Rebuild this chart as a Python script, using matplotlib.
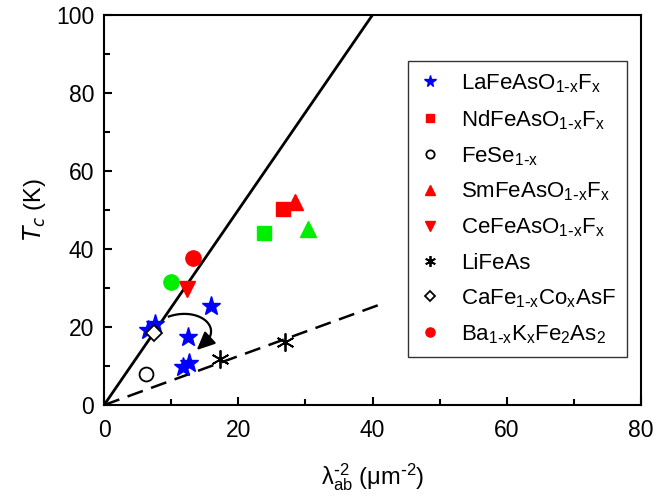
import numpy as np
import matplotlib
matplotlib.use("Agg")
import matplotlib.pyplot as plt
from matplotlib.ticker import MultipleLocator

plt.rcParams['font.family'] = ['Liberation Sans', 'DejaVu Sans']
plt.rcParams['mathtext.default'] = 'regular'

# data (x = lambda_ab^-2 in um^-2, y = Tc in K)
la_x = [6.6, 7.6, 12.5, 16.0, 11.8, 12.7]
la_y = [19.2, 20.7, 17.5, 25.3, 9.7, 10.8]
nd_x, nd_y = [26.7], [50.3]
fese_x, fese_y = [6.3], [7.9]
sm_x, sm_y = [28.4], [52.1]
ce_x, ce_y = [12.4], [29.7]
li_x, li_y = [17.3, 27.0], [11.7, 16.1]
ca_x, ca_y = [7.4], [18.5]
ba_x, ba_y = [13.2], [37.6]
# green points (not in legend)
gc_x, gc_y = [10.0], [31.6]
gs_x, gs_y = [23.8], [44.2]
gt_x, gt_y = [30.4], [45.0]

solid_x, solid_y = [0, 40], [0, 100]
dash_x, dash_y = [0, 41.8], [0, 26.2]

# curved arrow: start, two control points, tip (bezier)
arrow_pts = np.array([(9.5, 22.6), (14.3, 25.6), (18.7, 19.2), (13.8, 14.1)])

fig = plt.figure(figsize=(6.67, 4.97), dpi=100)
ax = fig.add_axes([0.156, 0.185, 0.805, 0.785])

ax.plot(solid_x, solid_y, color='black', lw=2)
ax.plot(dash_x, dash_y, color='black', lw=1.8, dashes=(6.5, 3.5))

ms = 11
ax.plot(la_x, la_y, '*', color='blue', ms=ms + 3, mec='blue', label=r'LaFeAsO$_{1\text{-}x}$F$_x$', ls='none')
ax.plot(nd_x, nd_y, 's', color='red', ms=ms - 0.5, label=r'NdFeAsO$_{1\text{-}x}$F$_x$', ls='none')
ax.plot(fese_x, fese_y, 'o', mfc='white', mec='black', mew=1.3, ms=ms - 1, label=r'FeSe$_{1\text{-}x}$', ls='none')
ax.plot(sm_x, sm_y, '^', color='red', ms=ms, label=r'SmFeAsO$_{1\text{-}x}$F$_x$', ls='none')
ax.plot(ce_x, ce_y, 'v', color='red', ms=ms, label=r'CeFeAsO$_{1\text{-}x}$F$_x$', ls='none')
ax.plot(li_x, li_y, marker=(6, 2, 0), color='black', mew=1.3, ms=ms + 2, label='LiFeAs', ls='none')
ax.plot(ca_x, ca_y, 'D', mfc='white', mec='black', mew=1.3, ms=ms - 2.5, label=r'CaFe$_{1\text{-}x}$Co$_x$AsF', ls='none')
ax.plot(ba_x, ba_y, 'o', color='red', ms=ms, label=r'Ba$_{1\text{-}x}$K$_x$Fe$_2$As$_2$', ls='none')

ax.plot(gc_x, gc_y, 'o', color='#00ee00', ms=ms, ls='none')
ax.plot(gs_x, gs_y, 's', color='#00ee00', ms=ms - 0.5, ls='none')
ax.plot(gt_x, gt_y, '^', color='#00ee00', ms=ms, ls='none')

# arrow body (cubic bezier) + head
t = np.linspace(0, 1, 60)[:, None]
p0, p1, p2, p3 = arrow_pts
curve = (1 - t) ** 3 * p0 + 3 * (1 - t) ** 2 * t * p1 + 3 * (1 - t) * t ** 2 * p2 + t ** 3 * p3
ax.plot(curve[:-8, 0], curve[:-8, 1], color='black', lw=1.6, solid_capstyle='butt')
ax.annotate('', xy=tuple(curve[-1]), xytext=tuple(curve[-12]),
            arrowprops=dict(arrowstyle='-|>,head_length=0.55,head_width=0.25',
                            mutation_scale=20, color='black', lw=1.6,
                            shrinkA=0, shrinkB=0))

ax.set_xlim(0, 80)
ax.set_ylim(0, 100)
ax.xaxis.set_major_locator(MultipleLocator(20))
ax.xaxis.set_minor_locator(MultipleLocator(10))
ax.yaxis.set_major_locator(MultipleLocator(20))
ax.yaxis.set_minor_locator(MultipleLocator(10))
ax.tick_params(which='both', direction='in', width=1.5, labelsize=16.5, pad=7)
ax.tick_params(axis='x', which='both', pad=10)
ax.tick_params(which='major', length=6)
ax.tick_params(which='minor', length=4)
for s in ax.spines.values():
    s.set_linewidth(1.5)

ax.set_xlabel(r'$\lambda_{ab}^{\text{-}2}$ ($\mu$m$^{\text{-}2}$)', fontsize=17, labelpad=14)
ax.set_ylabel(r'$\mathit{T_c}$ (K)', fontsize=17, labelpad=6)

leg = ax.legend(loc='upper right', bbox_to_anchor=(0.974, 0.882), borderaxespad=0,
                fontsize=16, markerscale=0.6, frameon=True, fancybox=False,
                edgecolor='black', borderpad=0.5, labelspacing=0.6,
                handletextpad=0.9, handlelength=1.0)
leg.get_frame().set_linewidth(1.0)

fig.savefig('out.png', dpi=100)
